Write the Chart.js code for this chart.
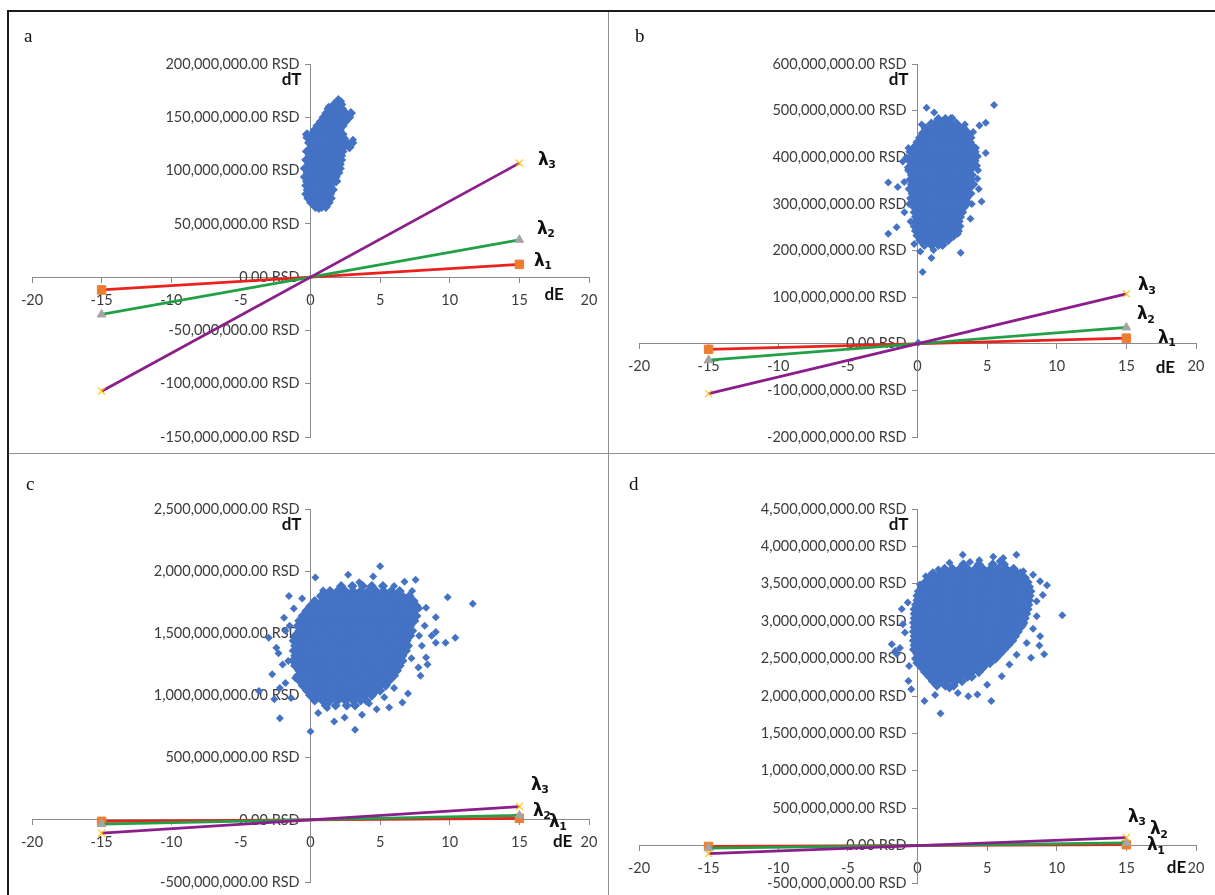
<!DOCTYPE html>
<html>
<head>
<meta charset="utf-8">
<title>dT versus dE</title>
<script src="https://cdn.jsdelivr.net/npm/chart.js@4.4.1/dist/chart.umd.min.js"></script>
<style>
  html, body { margin: 0; padding: 0; background: #fff; }
  #fig { position: relative; width: 1215px; height: 895px; overflow: hidden; background: #fff; }
  #fig canvas { position: absolute; }
  .rule { position: absolute; }
</style>
</head>
<body>
<div id="fig">
  <canvas id="pa" width="607" height="453" style="left:0;top:0"></canvas>
  <canvas id="pb" width="608" height="453" style="left:607px;top:0"></canvas>
  <canvas id="pc" width="607" height="442" style="left:0;top:453px"></canvas>
  <canvas id="pd" width="608" height="442" style="left:607px;top:453px"></canvas>
  <div class="rule" style="left:7px;top:10px;width:1208px;height:2px;background:#1a1a1a"></div>
  <div class="rule" style="left:7px;top:10px;width:2px;height:885px;background:#1a1a1a"></div>
  <div class="rule" style="left:608px;top:12px;width:1px;height:883px;background:#8f8f8f"></div>
  <div class="rule" style="left:9px;top:453px;width:1206px;height:1px;background:#8f8f8f"></div>
</div>
<script>
// dE axis (shared by all four panels)
const eRange = [-20, 20, 5];

// dT axis ranges per panel, in millions of RSD: [min, max, step]
const tRangeA = [-150, 200, 50];
const tRangeB = [-200, 600, 100];
const tRangeC = [-500, 2500, 500];
const tRangeD = [-500, 4500, 500];

// lambda lines: dE at both ends and dT (millions RSD) at those ends
const lineE = [-15, 15];
const lambda1 = [-12, 12];
const lambda2 = [-35, 35];
const lambda3 = [-107, 107];

// simulated (dE, dT) outcomes; dense part listed row by row as [dT, dE, dE, ...]
const rowsA = [
  [166, 2.0],
  [162, 1.7, 2.2],
  [158, 1.3, 1.8, 2.25],
  [154, 1.15, 1.6, 2.05, 2.5, 2.9],
  [150, 0.95, 1.4, 1.85, 2.3, 2.75],
  [146, 0.75, 1.2, 1.65, 2.1, 2.5],
  [142, 0.5, 0.95, 1.4, 1.85, 2.3],
  [138, 0.3, 0.75, 1.2, 1.65, 2.1],
  [134, -0.25, 0.1, 0.55, 1.0, 1.45, 1.9, 2.3],
  [130, 0.15, 0.6, 1.05, 1.5, 1.95, 2.4],
  [126, -0.1, 0.35, 0.8, 1.25, 1.7, 2.15, 2.6, 3.0],
  [122, 0.1, 0.55, 1.0, 1.45, 1.9, 2.35, 2.8],
  [118, -0.25, 0.2, 0.65, 1.1, 1.55, 2.0, 2.3],
  [114, -0.05, 0.4, 0.85, 1.3, 1.75, 2.2],
  [110, -0.3, 0.15, 0.6, 1.05, 1.5, 1.95, 2.2],
  [106, -0.1, 0.35, 0.8, 1.25, 1.7, 2.1],
  [102, -0.4, 0.05, 0.5, 0.95, 1.4, 1.85, 2.1],
  [98, -0.2, 0.25, 0.7, 1.15, 1.6, 2.0],
  [94, -0.4, 0.05, 0.5, 0.95, 1.4, 1.8],
  [90, -0.25, 0.2, 0.65, 1.1, 1.55, 1.85],
  [86, -0.3, 0.1, 0.55, 1.0, 1.45],
  [82, -0.2, 0.25, 0.7, 1.15, 1.6],
  [78, -0.3, 0.1, 0.55, 1.0, 1.4],
  [74, -0.15, 0.3, 0.75, 1.2, 1.45],
  [70, 0.05, 0.5, 0.95, 1.3],
  [66, 0.35, 0.8, 1.1]
];
const looseA = [[2.2, 165], [1.3, 160], [2.85, 150], [-0.3, 131], [3.05, 129], [0.6, 64]];

const rowsB = [
  [482, 1.5, 2.0, 2.4],
  [472, 1.0, 1.3, 1.8, 2.3, 2.8],
  [462, 0.6, 1.05, 1.55, 2.05, 2.55, 3.05, 3.3],
  [452, 0.4, 0.8, 1.3, 1.8, 2.3, 2.8, 3.3, 3.6],
  [442, 0.2, 0.55, 1.05, 1.55, 2.05, 2.55, 3.05, 3.5, 3.8],
  [432, 0.0, 0.3, 0.8, 1.3, 1.8, 2.3, 2.8, 3.3, 3.75],
  [422, -0.2, 0.05, 0.55, 1.05, 1.55, 2.05, 2.55, 3.05, 3.55, 4.0],
  [412, -0.5, -0.2, 0.3, 0.8, 1.3, 1.8, 2.3, 2.8, 3.3, 3.8, 4.1],
  [402, -0.4, 0.05, 0.55, 1.05, 1.55, 2.05, 2.55, 3.05, 3.55, 4.05, 4.25],
  [392, -0.55, -0.2, 0.3, 0.8, 1.3, 1.8, 2.3, 2.8, 3.3, 3.8, 4.1],
  [382, -0.4, 0.05, 0.55, 1.05, 1.55, 2.05, 2.55, 3.05, 3.55, 4.0, 4.2],
  [372, -0.6, -0.2, 0.3, 0.8, 1.3, 1.8, 2.3, 2.8, 3.3, 3.75],
  [362, -0.4, 0.05, 0.55, 1.05, 1.55, 2.05, 2.55, 3.05, 3.55, 3.9],
  [352, -0.5, -0.2, 0.3, 0.8, 1.3, 1.8, 2.3, 2.8, 3.3, 3.8],
  [342, -0.4, 0.05, 0.55, 1.05, 1.55, 2.05, 2.55, 3.05, 3.5, 3.8, 4.0],
  [332, -0.55, -0.2, 0.3, 0.8, 1.3, 1.8, 2.3, 2.8, 3.25, 3.65],
  [322, -0.35, 0.05, 0.55, 1.05, 1.55, 2.05, 2.55, 3.05, 3.55, 3.8],
  [312, -0.45, -0.1, 0.3, 0.8, 1.3, 1.8, 2.3, 2.8, 3.25, 3.5],
  [302, -0.3, 0.05, 0.55, 1.05, 1.55, 2.05, 2.55, 3.05, 3.4, 3.6],
  [292, -0.2, 0.3, 0.8, 1.3, 1.8, 2.3, 2.8, 3.3],
  [282, -0.2, 0.05, 0.55, 1.05, 1.55, 2.05, 2.55, 3.0, 3.2],
  [272, -0.1, 0.3, 0.8, 1.3, 1.8, 2.3, 2.8, 3.05],
  [262, -0.15, 0.05, 0.55, 1.05, 1.55, 2.05, 2.55, 2.95],
  [252, -0.2, 0.3, 0.8, 1.3, 1.8, 2.3, 2.75, 3.0],
  [242, -0.1, 0.2, 0.65, 1.15, 1.65, 2.15, 2.6, 2.9],
  [232, 0.0, 0.45, 0.95, 1.45, 1.95, 2.4, 2.6],
  [222, 0.2, 0.7, 1.2, 1.7, 2.2],
  [212, 0.5, 1.0, 1.5, 1.8]
];
const looseB = [
  [5.5, 512], [0.65, 506], [1.2, 496], [2.5, 484], [4.45, 468], [4.9, 474], [4.0, 454],
  [3.8, 432], [4.9, 409], [4.35, 372], [4.3, 354], [4.4, 332], [4.6, 305], [3.8, 268],
  [3.1, 195], [1.85, 219], [1.0, 184], [0.37, 154], [-0.24, 214], [-2.1, 236], [-1.5, 250],
  [-0.94, 282], [-2.1, 346], [-1.42, 336], [-0.95, 347], [-1.06, 391], [-0.8, 400],
  [-0.7, 378], [0.05, 2], [2.9, 236], [1.15, 201], [0.2, 198], [-0.5, 262], [-0.6, 300],
  [-0.65, 420], [0.3, 470], [3.4, 470], [3.9, 300], [4.2, 420]
];

const rowsC = [
  [1880, 2.2, 3.0, 3.75, 4.4, 5.2],
  [1840, 1.4, 1.95, 2.5, 3.05, 3.6, 4.15, 4.7, 5.25, 5.8, 6.4],
  [1800, 0.75, 1.1, 1.65, 2.2, 2.75, 3.3, 3.85, 4.4, 4.95, 5.5, 6.05, 6.6, 7.1],
  [1760, 0.3, 0.85, 1.4, 1.95, 2.5, 3.05, 3.6, 4.15, 4.7, 5.25, 5.8, 6.35, 6.9, 7.4],
  [1720, 0.0, 0.55, 1.1, 1.65, 2.2, 2.75, 3.3, 3.85, 4.4, 4.95, 5.5, 6.05, 6.6, 7.15, 7.6],
  [1680, -0.3, 0.3, 0.85, 1.4, 1.95, 2.5, 3.05, 3.6, 4.15, 4.7, 5.25, 5.8, 6.35, 6.9, 7.45],
  [1640, -0.55, 0.0, 0.55, 1.1, 1.65, 2.2, 2.75, 3.3, 3.85, 4.4, 4.95, 5.5, 6.05, 6.6, 7.15, 7.6],
  [1600, -0.8, -0.25, 0.3, 0.85, 1.4, 1.95, 2.5, 3.05, 3.6, 4.15, 4.7, 5.25, 5.8, 6.35, 6.9, 7.45],
  [1560, -0.9, -0.55, 0.0, 0.55, 1.1, 1.65, 2.2, 2.75, 3.3, 3.85, 4.4, 4.95, 5.5, 6.05, 6.6, 7.15],
  [1520, -0.8, -0.25, 0.3, 0.85, 1.4, 1.95, 2.5, 3.05, 3.6, 4.15, 4.7, 5.25, 5.8, 6.35, 6.9, 7.3],
  [1480, -1.1, -0.55, 0.0, 0.55, 1.1, 1.65, 2.2, 2.75, 3.3, 3.85, 4.4, 4.95, 5.5, 6.05, 6.6, 7.15],
  [1440, -1.2, -0.8, -0.25, 0.3, 0.85, 1.4, 1.95, 2.5, 3.05, 3.6, 4.15, 4.7, 5.25, 5.8, 6.35, 6.9],
  [1400, -1.1, -0.55, 0.0, 0.55, 1.1, 1.65, 2.2, 2.75, 3.3, 3.85, 4.4, 4.95, 5.5, 6.05, 6.6, 7.0],
  [1360, -1.2, -0.8, -0.25, 0.3, 0.85, 1.4, 1.95, 2.5, 3.05, 3.6, 4.15, 4.7, 5.25, 5.8, 6.35, 6.85],
  [1320, -1.1, -0.55, 0.0, 0.55, 1.1, 1.65, 2.2, 2.75, 3.3, 3.85, 4.4, 4.95, 5.5, 6.05, 6.6],
  [1280, -1.25, -0.8, -0.25, 0.3, 0.85, 1.4, 1.95, 2.5, 3.05, 3.6, 4.15, 4.7, 5.25, 5.8, 6.35, 6.6],
  [1240, -1.1, -0.55, 0.0, 0.55, 1.1, 1.65, 2.2, 2.75, 3.3, 3.85, 4.4, 4.95, 5.5, 6.05, 6.4],
  [1200, -0.8, -0.25, 0.3, 0.85, 1.4, 1.95, 2.5, 3.05, 3.6, 4.15, 4.7, 5.25, 5.8, 6.2],
  [1160, -0.9, -0.55, 0.0, 0.55, 1.1, 1.65, 2.2, 2.75, 3.3, 3.85, 4.4, 4.95, 5.5, 6.0],
  [1120, -0.8, -0.25, 0.3, 0.85, 1.4, 1.95, 2.5, 3.05, 3.6, 4.15, 4.7, 5.25, 5.65],
  [1080, -0.55, 0.0, 0.55, 1.1, 1.65, 2.2, 2.75, 3.3, 3.85, 4.4, 4.95, 5.4],
  [1040, -0.25, 0.3, 0.85, 1.4, 1.95, 2.5, 3.05, 3.6, 4.15, 4.7, 5.0],
  [1000, 0.0, 0.55, 1.1, 1.65, 2.2, 2.75, 3.3, 3.85, 4.4],
  [960, 0.3, 0.85, 1.4, 1.95, 2.5, 3.05, 3.6, 4.0],
  [920, 1.1, 1.8, 2.6, 3.2]
];
const looseC = [
  [5.0, 2040], [0.35, 1950], [11.65, 1738], [9.85, 1790], [10.4, 1465], [9.0, 1630],
  [8.3, 1705], [7.55, 1930], [6.75, 1915], [2.7, 1972], [4.5, 1958], [-1.55, 1800],
  [0.9, 1845], [-3.0, 1465], [-2.75, 1170], [-3.7, 1037], [-2.6, 970], [-2.2, 818],
  [0.0, 711], [3.2, 725], [1.7, 790], [2.45, 824], [3.7, 845], [4.75, 890], [5.65, 904],
  [6.6, 944], [7.0, 1016], [7.9, 1158], [7.75, 1225], [8.3, 1305], [9.0, 1425], [9.7, 1425],
  [9.0, 1510], [-1.5, 1560], [-1.9, 1626], [-1.2, 1700], [-2.45, 1385], [-1.6, 1278],
  [8.2, 1560], [8.0, 1400], [-2.0, 1250], [-1.8, 1100], [-1.4, 980], [0.55, 860], [1.2, 900],
  [4.2, 935], [5.3, 985], [6.0, 1060], [7.25, 1300], [7.8, 1480], [-1.8, 1520], [7.3, 1840],
  [6.0, 1880], [3.5, 1910], [-2.3, 1340], [8.7, 1480], [-2.2, 1060], [-1.1, 1140],
  [8.4, 1250], [-0.6, 1780], [7.8, 1700]
];

const rowsD = [
  [3760, 3.3, 4.4, 5.4, 6.2],
  [3700, 1.95, 2.5, 3.05, 3.6, 4.15, 4.7, 5.25, 5.8, 6.35, 6.9],
  [3640, 1.1, 1.65, 2.2, 2.75, 3.3, 3.85, 4.4, 4.95, 5.5, 6.05, 6.6, 7.15, 7.4],
  [3580, 0.85, 1.4, 1.95, 2.5, 3.05, 3.6, 4.15, 4.7, 5.25, 5.8, 6.35, 6.9, 7.45, 7.7],
  [3520, 0.55, 1.1, 1.65, 2.2, 2.75, 3.3, 3.85, 4.4, 4.95, 5.5, 6.05, 6.6, 7.15, 7.7, 7.9],
  [3460, 0.3, 0.85, 1.4, 1.95, 2.5, 3.05, 3.6, 4.15, 4.7, 5.25, 5.8, 6.35, 6.9, 7.45, 8.0],
  [3400, 0.1, 0.55, 1.1, 1.65, 2.2, 2.75, 3.3, 3.85, 4.4, 4.95, 5.5, 6.05, 6.6, 7.15, 7.7, 8.1],
  [3340, 0.0, 0.3, 0.85, 1.4, 1.95, 2.5, 3.05, 3.6, 4.15, 4.7, 5.25, 5.8, 6.35, 6.9, 7.45, 8.05],
  [3280, 0.0, 0.55, 1.1, 1.65, 2.2, 2.75, 3.3, 3.85, 4.4, 4.95, 5.5, 6.05, 6.6, 7.15, 7.7, 8.0],
  [3220, -0.1, 0.3, 0.85, 1.4, 1.95, 2.5, 3.05, 3.6, 4.15, 4.7, 5.25, 5.8, 6.35, 6.9, 7.45, 7.95],
  [3160, -0.2, 0.0, 0.55, 1.1, 1.65, 2.2, 2.75, 3.3, 3.85, 4.4, 4.95, 5.5, 6.05, 6.6, 7.15, 7.7, 7.9],
  [3100, -0.2, 0.3, 0.85, 1.4, 1.95, 2.5, 3.05, 3.6, 4.15, 4.7, 5.25, 5.8, 6.35, 6.9, 7.45, 7.8],
  [3040, -0.2, 0.0, 0.55, 1.1, 1.65, 2.2, 2.75, 3.3, 3.85, 4.4, 4.95, 5.5, 6.05, 6.6, 7.15, 7.7],
  [2980, -0.25, 0.3, 0.85, 1.4, 1.95, 2.5, 3.05, 3.6, 4.15, 4.7, 5.25, 5.8, 6.35, 6.9, 7.45, 7.6],
  [2920, -0.2, 0.0, 0.55, 1.1, 1.65, 2.2, 2.75, 3.3, 3.85, 4.4, 4.95, 5.5, 6.05, 6.6, 7.15, 7.4],
  [2860, -0.25, 0.3, 0.85, 1.4, 1.95, 2.5, 3.05, 3.6, 4.15, 4.7, 5.25, 5.8, 6.35, 6.9, 7.2],
  [2800, -0.2, 0.0, 0.55, 1.1, 1.65, 2.2, 2.75, 3.3, 3.85, 4.4, 4.95, 5.5, 6.05, 6.6, 7.0],
  [2740, -0.25, 0.3, 0.85, 1.4, 1.95, 2.5, 3.05, 3.6, 4.15, 4.7, 5.25, 5.8, 6.35, 6.8],
  [2680, -0.2, 0.0, 0.55, 1.1, 1.65, 2.2, 2.75, 3.3, 3.85, 4.4, 4.95, 5.5, 6.05, 6.5],
  [2620, -0.25, 0.3, 0.85, 1.4, 1.95, 2.5, 3.05, 3.6, 4.15, 4.7, 5.25, 5.8, 6.2],
  [2560, 0.0, 0.55, 1.1, 1.65, 2.2, 2.75, 3.3, 3.85, 4.4, 4.95, 5.5, 5.9],
  [2500, -0.1, 0.3, 0.85, 1.4, 1.95, 2.5, 3.05, 3.6, 4.15, 4.7, 5.25, 5.6],
  [2440, 0.0, 0.55, 1.1, 1.65, 2.2, 2.75, 3.3, 3.85, 4.4, 4.95, 5.2],
  [2380, 0.3, 0.85, 1.4, 1.95, 2.5, 3.05, 3.6, 4.15, 4.7],
  [2320, 0.55, 1.1, 1.65, 2.2, 2.75, 3.3, 3.85, 4.4],
  [2260, 0.85, 1.4, 1.95, 2.5, 3.05, 3.6, 3.9],
  [2200, 1.1, 1.65, 2.2, 2.75, 3.2],
  [2140, 1.4, 2.0, 2.6]
];
const looseD = [
  [3.25, 3890], [7.1, 3890], [3.77, 3790], [4.44, 3815], [5.44, 3860], [6.16, 3846],
  [10.4, 3080], [0.18, 3489], [-1.13, 3164], [-1.05, 2960], [-1.85, 2692], [-1.6, 2602],
  [-1.26, 2643], [-0.65, 2201], [-0.45, 2089], [0.5, 1933], [1.65, 1765], [1.26, 2015],
  [3.65, 1996], [4.3, 2019], [5.3, 1933], [6.05, 2263], [7.12, 2553], [7.84, 2710],
  [8.8, 2798], [9.1, 2558], [8.75, 2674], [8.15, 2513], [8.56, 3066], [9.3, 3480],
  [8.8, 3534], [8.56, 3266], [7.6, 3667], [-0.9, 2850], [-0.7, 3250], [-0.6, 2400],
  [2.3, 2100], [2.9, 2040], [5.0, 2150], [6.6, 2420], [8.3, 2900], [9.0, 3350], [8.3, 3620],
  [5.9, 3800], [2.3, 3780], [1.5, 3690], [0.6, 3600], [7.6, 2950], [-1.5, 2560]
];

// ---------------------------------------------------------------------------

const CLOUD_BLUE = '#4472C4';
const TICK_FONT = { family: 'Lato', size: 14.5 };
const AXIS_GREY = '#8a8a8a';

function rowPoints(rows) {
  const pts = [];
  rows.forEach(r => { for (let i = 1; i < r.length; i++) pts.push({ x: r[i], y: r[0] }); });
  return pts;
}
function pairPoints(pairs) { return pairs.map(p => ({ x: p[0], y: p[1] })); }
function linePoints(vals) { return lineE.map((e, i) => ({ x: e, y: vals[i] })); }

// tick text; the trailing em space keeps the label clear of the dT axis line
function rsd(v) {
  return (v * 1e6).toLocaleString('en-US', { minimumFractionDigits: 2, maximumFractionDigits: 2 }) + ' RSD\u2003';
}

const lambdas = [
  { sub: '1', vals: lambda1 },
  { sub: '2', vals: lambda2 },
  { sub: '3', vals: lambda3 }
];

// text drawn over each panel: letter, axis names, lambda labels
const panelText = {
  id: 'panelText',
  afterDraw(chart, args, o) {
    const { ctx, chartArea } = chart;
    const xs = chart.scales.x, ys = chart.scales.y;
    ctx.save();
    ctx.fillStyle = '#111';
    ctx.textBaseline = 'middle';

    ctx.font = '19px "Liberation Serif"';
    ctx.textAlign = 'left';
    ctx.fillText(o.letter, o.letterAt[0], o.letterAt[1]);

    ctx.font = 'bold 17px Lato';
    ctx.textAlign = 'right';
    ctx.fillText('dT', xs.getPixelForValue(0) - 9, chartArea.top + 16);
    ctx.textAlign = 'center';
    ctx.fillText('dE', xs.getPixelForValue(o.dE[0]), ys.getPixelForValue(0) + o.dE[1]);

    ctx.textAlign = 'left';
    lambdas.forEach((l, i) => {
      const px = xs.getPixelForValue(lineE[1]) + o.lam[i][0];
      const py = ys.getPixelForValue(l.vals[1]) + o.lam[i][1];
      ctx.font = 'bold 17px "DejaVu Sans"';
      ctx.fillText('\u03bb', px, py);
      const w = ctx.measureText('\u03bb').width;
      ctx.font = 'bold 11px "DejaVu Sans"';
      ctx.fillText(l.sub, px + w - 0.5, py + 5);
    });
    ctx.restore();
  }
};

function makePanel(canvasId, rows, loose, tRange, pad, text) {
  const datasets = [
    { label: 'λ3', data: linePoints(lambda3), showLine: true, borderColor: '#8B1E8B', borderWidth: 2.75,
      pointStyle: 'crossRot', pointRadius: 5, pointBorderColor: 'rgba(255,192,0,0.85)', pointBorderWidth: 1.3,
      pointBackgroundColor: 'rgba(0,0,0,0)', order: 1 },
    { label: 'λ2', data: linePoints(lambda2), showLine: true, borderColor: '#22A047', borderWidth: 2.75,
      pointStyle: 'triangle', pointRadius: 5, pointBackgroundColor: '#A5A5A5', pointBorderColor: '#A5A5A5',
      pointBorderWidth: 1, order: 2 },
    { label: 'λ1', data: linePoints(lambda1), showLine: true, borderColor: '#E8221C', borderWidth: 2.75,
      pointStyle: 'rect', pointRadius: 6, pointBackgroundColor: '#ED7D31', pointBorderColor: '#ED7D31',
      pointBorderWidth: 1, order: 3 },
    { label: 'dT', data: rowPoints(rows), showLine: false, pointStyle: 'rectRot', pointRadius: 4,
      pointBackgroundColor: CLOUD_BLUE, pointBorderColor: CLOUD_BLUE, pointBorderWidth: 1.6, order: 4 },
    { label: 'dT', data: pairPoints(loose), showLine: false, pointStyle: 'rectRot', pointRadius: 4,
      pointBackgroundColor: CLOUD_BLUE, pointBorderColor: CLOUD_BLUE, pointBorderWidth: 0, order: 5 }
  ];
  return new Chart(document.getElementById(canvasId), {
    type: 'scatter',
    data: { datasets },
    plugins: [panelText],
    options: {
      responsive: false,
      animation: false,
      events: [],
      layout: { padding: pad },
      plugins: { legend: { display: false }, tooltip: { enabled: false }, panelText: text },
      scales: {
        x: {
          type: 'linear', position: { y: 0 }, min: eRange[0], max: eRange[1],
          grid: { drawOnChartArea: false, color: AXIS_GREY, tickLength: 5 },
          border: { color: AXIS_GREY, width: 1 },
          ticks: { stepSize: eRange[2], autoSkip: false, maxRotation: 0, color: '#3c3c3c', font: TICK_FONT, padding: 9 }
        },
        y: {
          type: 'linear', position: { x: 0 }, min: tRange[0], max: tRange[1],
          grid: { drawOnChartArea: false, color: AXIS_GREY, tickLength: 5 },
          border: { color: AXIS_GREY, width: 1 },
          ticks: { stepSize: tRange[2], autoSkip: false, color: '#3c3c3c', font: TICK_FONT,
                   callback: v => rsd(v) }
        }
      }
    }
  });
}

makePanel('pa', rowsA, looseA, tRangeA, { left: 32, right: 18, top: 64, bottom: 16 },
  { letter: 'a', letterAt: [24, 37], dE: [17.5, 17], lam: [[14.6, -3], [17.6, -10.7], [18.6, -3]] });
makePanel('pb', rowsB, looseB, tRangeB, { left: 32, right: 19, top: 64, bottom: 16 },
  { letter: 'b', letterAt: [28, 37], dE: [17.8, 23.5], lam: [[31.6, 0], [10.6, -12.7], [11.6, -8]] });
makePanel('pc', rowsC, looseC, tRangeC, { left: 32, right: 18, top: 56, bottom: 13 },
  { letter: 'c', letterAt: [26, 32], dE: [18.1, 22], lam: [[29.6, 4], [13.6, -4], [11.6, -21]] });
makePanel('pd', rowsD, looseD, tRangeD, { left: 32, right: 19, top: 56, bottom: 12 },
  { letter: 'd', letterAt: [22, 32], dE: [18.6, 22], lam: [[20.6, 1], [23.6, -13], [1.6, -20]] });
</script>
</body>
</html>
